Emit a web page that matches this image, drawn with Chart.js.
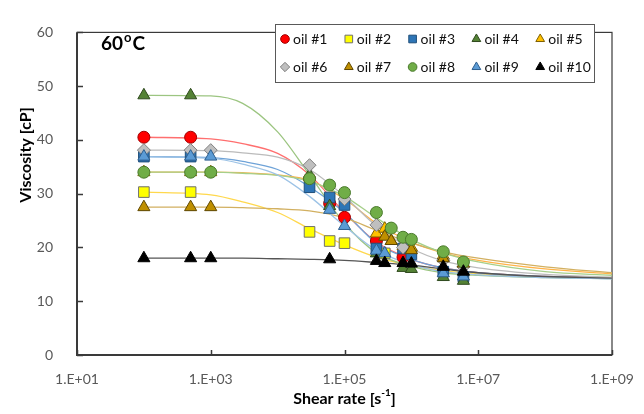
<!DOCTYPE html>
<html>
<head>
<meta charset="utf-8">
<script src="https://cdn.jsdelivr.net/npm/chart.js@4/dist/chart.umd.min.js"></script>
<style>
  html, body { margin: 0; padding: 0; background: #fff; }
  #wrap { width: 644px; height: 414px; }
</style>
</head>
<body>
<div id="wrap"><canvas id="visc" width="644" height="414"></canvas></div>
<script>
// --- data ---
const oilNames = ['oil #1', 'oil #2', 'oil #3', 'oil #4', 'oil #5', 'oil #6', 'oil #7', 'oil #8', 'oil #9', 'oil #10'];

// measured points: shear rate [1/s] and viscosity [cP]
const rate1 = [100, 500, 3e4, 6e4, 1e5, 3e5, 7.5e5];
const visc1 = [40.5, 40.5, 32.8, 28.2, 25.6, 21.2, 18.2];
const rate2 = [100, 500, 3e4, 6e4, 1e5, 4e5];
const visc2 = [30.3, 30.3, 22.9, 21.2, 20.8, 18.9];
const rate3 = [100, 500, 3e4, 6e4, 1e5, 3e5, 7.5e5, 1e6, 3e6, 6e6];
const visc3 = [36.9, 36.9, 31.2, 29.3, 27.9, 19.8, 19.8, 18.7, 15.5, 14.5];
const rate4 = [100, 500, 3e4, 6e4, 3e5, 7.5e5, 1e6, 3e6, 6e6];
const visc4 = [48.3, 48.3, 33.5, 27.7, 18.9, 16.2, 16.0, 14.5, 13.8];
const rate5 = [100, 500, 1000, 3e5, 4e5, 5e5, 7.5e5, 1e6, 3e6, 6e6];
const visc5 = [34.0, 34.0, 34.0, 22.6, 23.5, 21.2, 20.3, 20.0, 18.5, 17.0];
const rate6 = [100, 500, 1000, 3e4, 1e5, 3e5, 7.5e5, 3e6, 6e6];
const visc6 = [38.1, 38.1, 38.1, 35.3, 29.0, 24.2, 20.0, 17.6, 16.4];
const rate7 = [100, 500, 1000, 4e5, 5e5, 1e6, 3e6, 6e6];
const visc7 = [27.5, 27.5, 27.5, 22.0, 21.2, 19.5, 18.0, 17.0];
const rate8 = [100, 500, 1000, 3e4, 6e4, 1e5, 3e5, 5e5, 7.5e5, 1e6, 3e6, 6e6];
const visc8 = [34.0, 34.0, 34.0, 32.8, 31.6, 30.2, 26.5, 23.6, 21.9, 21.5, 19.2, 17.3];
const rate9 = [100, 500, 1000, 6e4, 1e5, 3e5, 4e5, 3e6, 6e6];
const visc9 = [36.9, 36.9, 36.9, 27.0, 24.0, 19.4, 18.9, 15.2, 14.6];
const rate10 = [100, 500, 1000, 6e4, 3e5, 4e5, 7.5e5, 1e6, 3e6, 6e6];
const visc10 = [18.0, 18.0, 18.0, 17.8, 17.5, 17.1, 17.1, 17.0, 16.4, 15.5];

// fitted curves, read at these shear rates
const curveRates = [1e2, 1e3, 3e3, 1e4, 3e4, 1e5, 3e5, 1e6, 3e6, 1e7, 1e8, 1e9];
const fit1 = [40.5, 40.2, 39.3, 37.5, 33.5, 26.5, 21.0, 17.8, 16.2, 15.3, 14.6, 14.3];
const fit2 = [30.3, 29.8, 28.5, 26.5, 23.5, 20.5, 18.2, 16.6, 15.7, 15.1, 14.5, 14.3];
const fit3 = [36.9, 36.7, 36.0, 34.5, 31.3, 26.5, 20.8, 17.8, 16.2, 15.3, 14.6, 14.2];
const fit4 = [48.3, 48.2, 46.8, 41.5, 33.5, 24.5, 19.0, 16.5, 15.3, 14.8, 14.4, 14.2];
const fit5 = [34.0, 34.0, 33.9, 33.5, 32.5, 29.0, 24.5, 21.0, 19.0, 17.6, 16.0, 15.1];
const fit6 = [38.1, 38.0, 37.6, 36.8, 34.5, 29.5, 24.0, 19.8, 17.5, 16.2, 15.0, 14.5];
const fit7 = [27.5, 27.5, 27.4, 27.2, 26.8, 25.5, 23.2, 20.8, 19.2, 18.0, 16.4, 15.3];
const fit8 = [34.0, 34.0, 33.8, 33.4, 32.3, 29.5, 25.5, 21.5, 19.0, 17.3, 15.5, 14.8];
const fit9 = [36.9, 36.6, 35.5, 33.5, 29.5, 24.0, 19.5, 16.8, 15.5, 14.9, 14.4, 14.2];
const fit10 = [18.0, 18.0, 18.0, 17.9, 17.8, 17.6, 17.2, 16.7, 16.0, 15.3, 14.6, 14.3];

const xTickValues = [1e1, 1e3, 1e5, 1e7, 1e9];
const yTickValues = [0, 10, 20, 30, 40, 50, 60];

// --- styles ---
const markerFill = ['#FF0000', '#FFFF00', '#2E75B6', '#548235', '#FFC000', '#BFBFBF', '#BF8F00', '#70AD47', '#5B9BD5', '#000000'];
const markerEdge = ['#A00000', '#6f6f6f', '#1F4E79', '#2f4a1e', '#7F6000', '#7f7f7f', '#5f4700', '#4a7a2c', '#2e5f8f', '#000000'];
const markerShape = ['circle', 'rect', 'rect', 'triangle', 'triangle', 'rectRot', 'triangle', 'circle', 'triangle', 'triangle'];
const lineColor = ['#FF6F6F', '#FFD84D', '#6FA3D8', '#9CC581', '#FFB347', '#BBBBBB', '#D2B061', '#A6CF8A', '#9DC3E6', '#555555'];
const shapeRadius = { circle: 6, rect: 7.5, triangle: 7, rectRot: 6.5 };

const allRates = [rate1, rate2, rate3, rate4, rate5, rate6, rate7, rate8, rate9, rate10];
const allVisc = [visc1, visc2, visc3, visc4, visc5, visc6, visc7, visc8, visc9, visc10];
const allFits = [fit1, fit2, fit3, fit4, fit5, fit6, fit7, fit8, fit9, fit10];

const FONT = 'Lato, "Open Sans", "DejaVu Sans", sans-serif';

const datasets = [];
allFits.forEach((fit, i) => {
    datasets.push({
        label: oilNames[i] + ' fit',
        data: curveRates.map((r, k) => ({ x: r, y: fit[k] })),
        showLine: true,
        borderColor: lineColor[i],
        borderWidth: 1.3,
        pointRadius: 0,
        cubicInterpolationMode: 'monotone',
        order: 100 - i
    });
});
allRates.forEach((rates, i) => {
    datasets.push({
        label: oilNames[i],
        data: rates.map((r, k) => ({ x: r, y: allVisc[i][k] })),
        showLine: false,
        pointStyle: markerShape[i],
        pointRadius: shapeRadius[markerShape[i]],
        backgroundColor: markerFill[i],
        borderColor: markerEdge[i],
        pointBorderWidth: 1,
        order: 20 - i
    });
});

function drawMarker(ctx, shape, r, x, y) {
    ctx.beginPath();
    if (shape === 'circle') {
        ctx.arc(x, y, r, 0, Math.PI * 2);
    } else if (shape === 'rect') {
        const s = r * Math.SQRT1_2;
        ctx.rect(x - s, y - s, 2 * s, 2 * s);
    } else if (shape === 'rectRot') {
        ctx.moveTo(x, y - r); ctx.lineTo(x + r, y); ctx.lineTo(x, y + r); ctx.lineTo(x - r, y);
        ctx.closePath();
    } else {
        const w = r * Math.sqrt(3) / 2;
        ctx.moveTo(x, y - r); ctx.lineTo(x + w, y + r / 2); ctx.lineTo(x - w, y + r / 2);
        ctx.closePath();
    }
    ctx.fill();
    ctx.stroke();
}

const decorPlugin = {
    id: 'decor',
    beforeDatasetsDraw(chart) {
        const { ctx, chartArea: a, scales } = chart;
        ctx.save();
        // frame
        ctx.strokeStyle = '#3a3a3a';
        ctx.lineWidth = 1.2;
        ctx.strokeRect(a.left, a.top, a.right - a.left, a.bottom - a.top);
        ctx.lineWidth = 2;
        ctx.beginPath();
        ctx.moveTo(a.left, a.top); ctx.lineTo(a.left, a.bottom); ctx.lineTo(a.right, a.bottom);
        ctx.stroke();
        // inward tick marks
        ctx.lineWidth = 1.5;
        ctx.beginPath();
        xTickValues.forEach(v => {
            const px = Math.round(scales.x.getPixelForValue(v)) + 0.5;
            ctx.moveTo(px, a.bottom); ctx.lineTo(px, a.bottom - 5);
        });
        yTickValues.forEach(v => {
            const py = Math.round(scales.y.getPixelForValue(v)) + 0.5;
            ctx.moveTo(a.left, py); ctx.lineTo(a.left + 6, py);
        });
        ctx.stroke();
        ctx.restore();
    },
    afterDraw(chart) {
        const { ctx, chartArea: a } = chart;
        ctx.save();
        ctx.fillStyle = '#000';
        // temperature label
        ctx.font = 'bold 19px ' + FONT;
        ctx.textBaseline = 'alphabetic';
        ctx.textAlign = 'left';
        ctx.fillText('60', 101, 50);
        let w = ctx.measureText('60').width;
        ctx.font = 'bold 13px ' + FONT;
        ctx.fillText('o', 101 + w + 1, 42);
        let w2 = ctx.measureText('o').width;
        ctx.font = 'bold 19px ' + FONT;
        ctx.fillText('C', 101 + w + w2 + 2, 50);

        // y title
        ctx.save();
        ctx.translate(26, 155);
        ctx.rotate(-Math.PI / 2);
        ctx.font = 'bold 16px ' + FONT;
        ctx.textAlign = 'center';
        ctx.textBaseline = 'middle';
        ctx.fillText('Viscosity [cP]', 0, 0);
        ctx.restore();

        // x title with superscript
        const t1 = 'Shear rate [s';
        const sup = '-1';
        ctx.font = 'bold 10px ' + FONT;
        const ws = ctx.measureText(sup).width;
        ctx.font = 'bold 16px ' + FONT;
        const w1 = ctx.measureText(t1).width;
        const w3 = ctx.measureText(']').width;
        const x0 = (a.left + a.right) / 2 - (w1 + ws + w3) / 2;
        ctx.textAlign = 'left';
        ctx.textBaseline = 'alphabetic';
        ctx.fillText(t1, x0, 404);
        ctx.font = 'bold 10px ' + FONT;
        ctx.fillText(sup, x0 + w1, 396);
        ctx.font = 'bold 16px ' + FONT;
        ctx.fillText(']', x0 + w1 + ws, 404);

        // legend box
        ctx.fillStyle = '#fff';
        ctx.fillRect(275, 24, 319, 58);
        ctx.strokeStyle = '#595959';
        ctx.lineWidth = 1;
        ctx.strokeRect(275.5, 24.5, 319, 58);
        oilNames.forEach((name, i) => {
            const col = i % 5, row = Math.floor(i / 5);
            const mx = 285 + col * 63.8, my = row === 0 ? 39 : 67;
            ctx.fillStyle = markerFill[i];
            ctx.strokeStyle = markerEdge[i];
            ctx.lineWidth = 1;
            const sh = markerShape[i];
            drawMarker(ctx, sh, shapeRadius[sh] * 0.72, mx, my);
            ctx.fillStyle = '#111';
            ctx.font = '14px ' + FONT;
            ctx.textBaseline = 'middle';
            ctx.fillText(name, mx + 8, my);
        });
        ctx.restore();
    }
};

new Chart(document.getElementById('visc'), {
    type: 'scatter',
    data: { datasets: datasets },
    options: {
        responsive: false,
        animation: false,
        layout: { padding: { top: 14, right: 32, left: 0, bottom: 0 } },
        plugins: { legend: { display: false }, tooltip: { enabled: false } },
        scales: {
            x: {
                type: 'logarithmic',
                min: 10,
                max: 1e9,
                grid: { display: false },
                border: { display: false },
                afterBuildTicks: scale => { scale.ticks = xTickValues.map(v => ({ value: v })); },
                afterFit: scale => { scale.height = 59; },
                ticks: {
                    color: '#595959',
                    font: { family: FONT, size: 14 },
                    padding: 8,
                    maxRotation: 0,
                    autoSkip: false,
                    callback: v => '1.E+' + String(Math.round(Math.log10(v))).padStart(2, '0')
                }
            },
            y: {
                min: 0,
                max: 60,
                grid: { display: false, drawTicks: false },
                border: { display: false },
                afterFit: scale => { scale.width = 77; },
                ticks: {
                    stepSize: 10,
                    color: '#595959',
                    font: { family: FONT, size: 14 },
                    padding: 24
                }
            }
        }
    },
    plugins: [decorPlugin]
});
</script>
</body>
</html>
